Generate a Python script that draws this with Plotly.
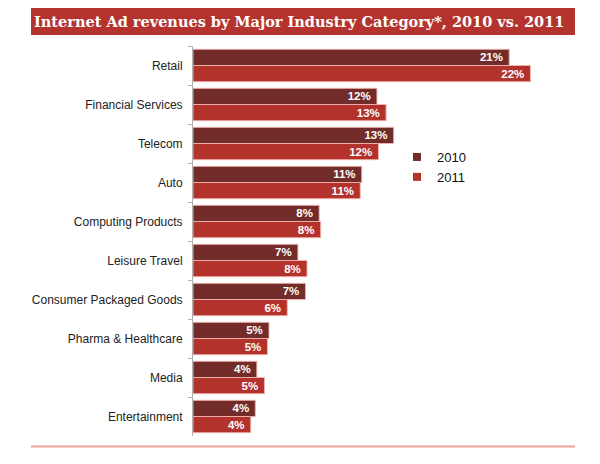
import plotly.graph_objects as go

categories = ["Retail", "Financial Services", "Telecom", "Auto", "Computing Products",
              "Leisure Travel", "Consumer Packaged Goods", "Pharma & Healthcare",
              "Media", "Entertainment"]
values_2010 = [20.8, 12.1, 13.2, 11.1, 8.3, 6.9, 7.4, 5.0, 4.2, 4.1]
values_2011 = [22.2, 12.7, 12.2, 11.0, 8.4, 7.5, 6.2, 4.9, 4.7, 3.8]
series_names = ["2010", "2011"]
title_text = "Internet Ad revenues by Major Industry Category*, 2010 vs. 2011"

C2010 = "#722D2A"
C2011 = "#B3322B"

# page body has an 8px margin: figure is drawn 8px right/down of the window origin
OFF = 8
W, H = 600 - OFF, 464 - OFF
ML, MT = 193 - OFF, 46 - OFF
MR = W - (575 - OFF)
MB = H - (436 - OFF)
PW = W - ML - MR
PH = H - MT - MB

def px_x(x):  # reference window pixel -> paper
    return (x - OFF - ML) / PW

def px_y(y):
    return (H - MB - (y - OFF)) / PH

fig = go.Figure()
for name, vals, col in [(series_names[0], values_2010, C2010), (series_names[1], values_2011, C2011)]:
    fig.add_trace(go.Bar(
        y=categories, x=vals, orientation="h", name=name,
        marker=dict(color=col, line=dict(color="rgba(240,180,175,0.9)", width=1)),
        texttemplate="<b>%{x:.0f}%</b>\u00a0", textposition="inside", insidetextanchor="end",
        textfont=dict(family="Liberation Sans", size=11.5, color="white"),
        showlegend=False, hoverinfo="skip",
    ))
    fig.add_trace(go.Scatter(
        x=[None], y=[None], mode="markers", name=name, legendgroup=name,
        marker=dict(symbol="square", size=8, color=col),
    ))

fig.update_layout(
    width=W, height=H,
    margin=dict(l=ML, r=MR, t=MT, b=MB),
    paper_bgcolor="white", plot_bgcolor="white",
    barmode="group", bargap=0.17, bargroupgap=0,
    uniformtext=dict(mode="show", minsize=11),
    font=dict(family="Liberation Sans", size=12, color="#222222"),
    xaxis=dict(range=[0, 25.13], visible=False, fixedrange=True),
    yaxis=dict(
        type="category", categoryorder="array", categoryarray=categories,
        autorange="reversed", showline=True, linecolor="#b0b0b0", linewidth=1,
        ticks="outside", tickson="boundaries", ticklen=4, tickcolor="#b0b0b0",
        ticklabelstandoff=7,
        showgrid=False, tickfont=dict(family="Liberation Sans", size=12, color="#222222"),
    ),
    legend=dict(
        x=px_x(397), y=px_y(142), xanchor="left", yanchor="top",
        font=dict(family="Liberation Sans", size=13, color="#111111"),
        itemwidth=30, traceorder="grouped", tracegroupgap=0, bgcolor="rgba(0,0,0,0)",
    ),
    shapes=[
        dict(type="rect", xref="paper", yref="paper",
             x0=px_x(31), x1=px_x(575), y0=px_y(35), y1=px_y(8),
             fillcolor="#B5332E", line=dict(width=0), layer="below"),
        dict(type="line", xref="paper", yref="paper",
             x0=px_x(31), x1=px_x(575), y0=px_y(446.5), y1=px_y(446.5),
             line=dict(color="#F0A29C", width=2)),
    ],
    annotations=[
        dict(text="<b>" + title_text + "</b>", xref="paper", yref="paper",
             x=px_x(32), y=px_y(21.5), xanchor="left", yanchor="middle",
             showarrow=False,
             font=dict(family="DejaVu Serif", size=14.5, color="white")),
    ],
)

fig.write_html("out.html")
